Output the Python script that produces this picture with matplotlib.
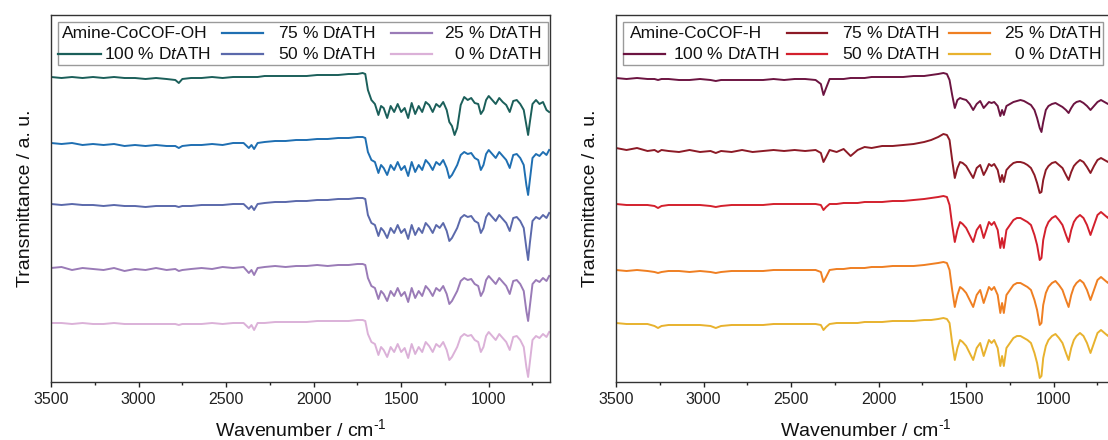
import matplotlib
matplotlib.use("Agg")
import matplotlib.pyplot as plt
from matplotlib.patches import Rectangle
from matplotlib.ticker import MultipleLocator

plt.rcParams['font.family'] = ['Liberation Sans', 'DejaVu Sans']
plt.rcParams['mathtext.fontset'] = 'custom'
plt.rcParams['mathtext.rm'] = 'Liberation Sans'
plt.rcParams['mathtext.it'] = 'Liberation Sans:italic'

# ---------------- data: left panel (Amine-CoCOF-OH) ----------------
wn_left = [3500, 3440, 3380, 3320, 3260, 3200, 3140, 3080, 3020, 2960, 2900, 2840, 2790, 2770, 2750,
           2700, 2640, 2580, 2520, 2460, 2400, 2370, 2355, 2340, 2320, 2280, 2220, 2160, 2100, 2040,
           1980, 1920, 1860, 1800, 1750, 1720, 1705,
           1690, 1670, 1650, 1630, 1615, 1600, 1580, 1560, 1540, 1520,
           1500, 1480, 1460, 1440, 1420, 1400, 1380, 1360, 1340, 1320,
           1300, 1280, 1260, 1240, 1225, 1210, 1195, 1180, 1160, 1140,
           1120, 1100, 1080, 1060, 1045, 1030, 1015, 1000, 980, 960,
           940, 920, 900, 880, 860, 840, 820, 800, 785, 775,
           765, 750, 730, 710, 690, 670, 655]

oh_100 = [300, 299, 300, 299, 300, 299, 300, 299, 299, 298, 299, 298, 297, 294, 298, 299, 299, 300, 299, 300,
          300, 300, 300, 300, 300, 301, 301, 301, 301, 301, 302, 302, 302, 303, 303, 304, 303,
          287, 277, 273, 262, 271, 269, 259, 271, 265, 273,
          265, 269, 259, 274, 263, 271, 265, 275, 272, 265,
          273, 270, 275, 267, 255, 251, 242, 249, 272, 280,
          277, 279, 274, 273, 263, 267, 277, 281, 277, 273,
          279, 275, 272, 265, 276, 277, 273, 267, 252, 242,
          255, 273, 277, 273, 275, 267, 265]
oh_75 = [234, 233, 234, 232, 233, 232, 233, 231, 232, 231, 232, 231, 231, 229, 231, 232, 232, 233, 232, 234,
         234, 229, 232, 228, 234, 235, 236, 236, 237, 237, 238, 238, 239, 239, 240, 240, 239,
         225, 217, 215, 204, 212, 209, 202, 212, 207, 215,
         207, 211, 201, 215, 205, 212, 207, 217, 213, 207,
         215, 212, 217, 209, 199, 202, 207, 212, 222, 225,
         223, 224, 219, 217, 207, 212, 223, 227, 223, 219,
         225, 221, 217, 209, 222, 223, 219, 212, 192, 182,
         197, 219, 223, 221, 225, 222, 227]
oh_50 = [173, 172, 173, 172, 172, 171, 172, 171, 171, 170, 171, 171, 171, 170, 171, 171, 172, 172, 172, 173,
         173, 168, 171, 167, 173, 174, 175, 175, 176, 176, 177, 177, 178, 178, 179, 179, 178,
         162, 154, 152, 141, 149, 146, 139, 149, 144, 152,
         144, 148, 138, 152, 142, 149, 144, 154, 150, 144,
         152, 149, 154, 146, 136, 139, 144, 149, 159, 162,
         160, 161, 156, 154, 144, 149, 160, 164, 160, 156,
         162, 158, 154, 146, 159, 160, 156, 149, 129, 117,
         134, 156, 160, 158, 162, 159, 164]
oh_25 = [109, 110, 107, 109, 108, 107, 109, 106, 108, 107, 109, 107, 108, 106, 107, 108, 109, 108, 110, 109,
         110, 104, 107, 102, 109, 110, 111, 110, 111, 111, 112, 111, 112, 112, 113, 113, 112,
         99, 91, 89, 78, 86, 83, 76, 86, 81, 89,
         81, 85, 75, 89, 79, 86, 81, 91, 87, 81,
         89, 86, 91, 83, 73, 76, 81, 86, 96, 99,
         97, 98, 93, 91, 81, 86, 97, 101, 97, 93,
         99, 95, 91, 83, 96, 97, 93, 86, 66, 56,
         71, 93, 97, 95, 99, 96, 101]
oh_0 = [54, 54, 53, 54, 53, 53, 54, 53, 53, 53, 53, 53, 53, 52, 53, 53, 53, 54, 53, 54,
        54, 49, 52, 47, 54, 54, 55, 55, 55, 55, 56, 56, 56, 56, 57, 57, 56,
        43, 35, 33, 22, 30, 27, 20, 30, 25, 33,
        25, 29, 19, 33, 23, 30, 25, 35, 31, 25,
        33, 30, 35, 27, 17, 20, 25, 30, 40, 43,
        41, 42, 37, 35, 25, 30, 41, 45, 41, 37,
        43, 39, 35, 27, 40, 41, 37, 30, 10, 0,
        15, 37, 41, 39, 43, 40, 45]

# ---------------- data: right panel (Amine-CoCOF-H) ----------------
wn_right = [3500, 3440, 3380, 3320, 3280, 3260, 3240, 3200, 3140, 3080, 3020, 2960, 2930, 2900, 2840,
            2780, 2720, 2660, 2600, 2540, 2480, 2420, 2360, 2330, 2315, 2300, 2280, 2240, 2200, 2160,
            2120, 2080, 2040, 1980, 1920, 1860, 1800, 1740, 1700, 1660, 1630, 1610,
            1595, 1580, 1565, 1550, 1535, 1520, 1500, 1480, 1460, 1440,
            1420, 1400, 1385, 1370, 1355, 1340, 1320, 1305, 1295, 1285,
            1270, 1250, 1230, 1210, 1190, 1170, 1150, 1130, 1110, 1095,
            1080, 1070, 1060, 1045, 1030, 1010, 990, 970, 950, 930,
            915, 900, 885, 870, 850, 830, 810, 790, 770, 750,
            730, 710, 690, 670, 655]

h_100 = [299, 298, 299, 298, 298, 297, 298, 298, 297, 297, 298, 297, 296, 297, 297, 297, 297, 297, 298, 297,
         298, 298, 297, 293, 282, 289, 298, 298, 298, 299, 299, 299, 300, 300, 300, 300, 301, 301, 302, 303,
         304, 303,
         297, 282, 269, 277, 279, 278, 277, 273, 267, 273,
         276, 269, 272, 275, 274, 275, 271, 261, 267, 262,
         271, 273, 275, 276, 277, 276, 274, 272, 267, 259,
         249, 245, 255, 267, 271, 273, 274, 272, 270, 267,
         264, 269, 273, 275, 276, 274, 271, 267, 271, 275,
         277, 275, 273, 277, 278]
h_75 = [229, 227, 229, 226, 227, 225, 227, 226, 225, 227, 225, 226, 224, 226, 225, 227, 225, 226, 227, 226,
        227, 226, 227, 224, 215, 220, 227, 225, 228, 221, 227, 230, 229, 231, 231, 232, 233, 235, 237, 240,
        243, 242,
        237, 217, 199, 209, 215, 214, 211, 205, 199, 209,
        212, 202, 207, 213, 211, 213, 207, 195, 202, 195,
        207, 211, 214, 215, 215, 214, 212, 209, 202, 194,
        184, 185, 197, 207, 211, 214, 215, 212, 209, 202,
        197, 205, 211, 214, 217, 215, 210, 204, 211, 217,
        219, 217, 215, 220, 221]
h_50 = [173, 172, 172, 172, 171, 169, 171, 172, 172, 172, 172, 171, 170, 171, 172, 172, 172, 172, 173, 173,
        173, 173, 173, 172, 167, 170, 173, 173, 174, 174, 174, 175, 175, 175, 176, 176, 177, 178, 179, 180,
        181, 180,
        172, 152, 135, 147, 155, 153, 149, 142, 135, 147,
        152, 139, 147, 155, 152, 155, 147, 129, 139, 129,
        147, 152, 157, 159, 159, 157, 155, 152, 142, 132,
        117, 119, 137, 149, 155, 159, 161, 157, 152, 142,
        135, 147, 155, 159, 162, 159, 152, 142, 152, 162,
        165, 162, 159, 167, 169]
h_25 = [107, 106, 107, 106, 105, 104, 105, 106, 106, 105, 106, 105, 104, 105, 106, 106, 106, 106, 107, 107,
        107, 107, 107, 105, 95, 100, 107, 108, 108, 109, 109, 109, 110, 110, 111, 111, 111, 112, 113, 114,
        115, 114,
        107, 87, 70, 82, 90, 88, 84, 77, 70, 82,
        87, 74, 82, 90, 87, 90, 82, 64, 74, 64,
        82, 87, 92, 94, 94, 92, 90, 87, 77, 67,
        52, 54, 72, 84, 90, 94, 96, 92, 87, 77,
        70, 82, 90, 94, 97, 94, 87, 77, 87, 97,
        100, 97, 94, 102, 104]
h_0 = [54, 53, 53, 53, 51, 49, 51, 52, 52, 52, 52, 51, 49, 51, 52, 52, 52, 52, 53, 53,
       53, 53, 53, 52, 47, 50, 53, 54, 54, 54, 54, 55, 55, 55, 56, 56, 56, 57, 57, 58,
       59, 58,
       54, 34, 17, 29, 37, 35, 31, 24, 17, 29,
       34, 21, 29, 37, 34, 37, 29, 11, 21, 11,
       29, 34, 39, 41, 41, 39, 37, 34, 24, 14,
       -1, 1, 19, 31, 37, 41, 43, 39, 34, 24,
       17, 29, 37, 41, 44, 41, 34, 24, 34, 44,
       47, 44, 41, 49, 51]

labels = ['100 % D$\\mathit{t}$ATH', '75 % D$\\mathit{t}$ATH', '50 % D$\\mathit{t}$ATH',
          '25 % D$\\mathit{t}$ATH', '0 % D$\\mathit{t}$ATH']
titles = ['Amine-CoCOF-OH', 'Amine-CoCOF-H']
colors_left = ['#1b5f5a', '#1f6fb2', '#5b69ab', '#9a7bb7', '#dbb1d8']
colors_right = ['#6c1441', '#8c1a26', '#d3202d', '#ef7f22', '#e8b22e']

panels = [
    (wn_left, [oh_100, oh_75, oh_50, oh_25, oh_0], colors_left, titles[0]),
    (wn_right, [h_100, h_75, h_50, h_25, h_0], colors_right, titles[1]),
]

W, H = 1108, 440
fig = plt.figure(figsize=(W / 100, H / 100), dpi=100)
ax_pos = [(51, 15, 499, 367), (616, 15, 499, 367)]

# legend layout in axes fractions: box, lines and text right ends per panel
leg_cfg = [
    dict(box=(0.014, 0.996), title_x=0.021,
         lines=[(0.014, 0.100), (0.343, 0.425), (0.343, 0.425), (0.682, 0.764), (0.682, 0.764)],
         text_r=[0.321, 0.650, 0.650, 0.982, 0.982]),
    dict(box=(0.014, 0.976), title_x=0.027,
         lines=[(0.016, 0.098), (0.342, 0.423), (0.342, 0.423), (0.667, 0.749), (0.667, 0.749)],
         text_r=[0.328, 0.647, 0.647, 0.973, 0.973]),
]
row1, row2 = 0.950, 0.895
rows = [row2, row1, row2, row1, row2]
box_y0, box_y1 = 0.863, 0.982

for (x0, y0, w, h), (wn, series, cols, title), cfg in zip(ax_pos, panels, leg_cfg):
    ax = fig.add_axes([x0 / W, (H - y0 - h) / H, w / W, h / H])
    for ys, c in zip(series, cols):
        ax.plot(wn, ys, color=c, lw=1.4, solid_joinstyle='round')
    ax.set_xlim(3500, 650)
    ax.set_ylim(-5, 362)
    ax.set_yticks([])
    ax.xaxis.set_major_locator(MultipleLocator(500))
    ax.xaxis.set_minor_locator(MultipleLocator(250))
    ax.tick_params(axis='x', which='major', direction='out', length=3.5, width=1, labelsize=11.5,
                   colors='#222222', pad=3.5)
    ax.tick_params(axis='x', which='minor', direction='out', length=2.2, width=1, colors='#222222')
    for sp in ax.spines.values():
        sp.set_color('#333333')
        sp.set_linewidth(1.0)
    ax.set_xlabel('Wavenumber / cm$^{\\text{-1}}$', fontsize=14, color='#111111', labelpad=8)
    ax.set_ylabel('Transmittance / a. u.', fontsize=14, color='#111111', labelpad=12)

    # legend drawn by hand (Origin style)
    bx0, bx1 = cfg['box']
    ax.add_patch(Rectangle((bx0, box_y0), bx1 - bx0, box_y1 - box_y0, transform=ax.transAxes,
                           facecolor='white', edgecolor='#9a9a9a', lw=1.0, zorder=5))
    ax.text(cfg['title_x'], row1, title, transform=ax.transAxes, ha='left', va='center',
            fontsize=12.5, color='#111111', zorder=6)
    for (lx0, lx1), tr, ry, c, lab in zip(cfg['lines'], cfg['text_r'], rows, cols, labels):
        ax.plot([lx0, lx1], [ry, ry], transform=ax.transAxes, color=c, lw=1.6, zorder=6)
        ax.text(tr, ry, lab, transform=ax.transAxes, ha='right', va='center',
                fontsize=12.5, color='#111111', zorder=6)

fig.savefig('out.png', dpi=100)
